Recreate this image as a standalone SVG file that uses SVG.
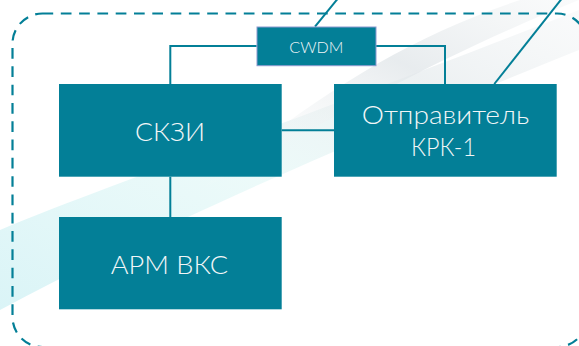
<svg xmlns="http://www.w3.org/2000/svg" width="579" height="346" viewBox="0 0 579 346">
  <defs>
    <linearGradient id="swoosh" x1="0" y1="1" x2="1" y2="0">
      <stop offset="0" stop-color="#d6f3f6" stop-opacity="0.9"/>
      <stop offset="0.45" stop-color="#e8f9f8" stop-opacity="0.8"/>
      <stop offset="0.75" stop-color="#e8edef" stop-opacity="0.8"/>
      <stop offset="1" stop-color="#f4f6f7" stop-opacity="0.5"/>
    </linearGradient>
    <linearGradient id="swoosh2" x1="0" y1="1" x2="1" y2="0">
      <stop offset="0" stop-color="#ffffff" stop-opacity="0"/>
      <stop offset="0.6" stop-color="#e2e7ea" stop-opacity="0.8"/>
      <stop offset="1" stop-color="#eef1f2" stop-opacity="0.3"/>
    </linearGradient>
    <style>
      .box { fill: #037f97; }
      .lbl { fill: #f2f6f7; font-family: "Lato", "Liberation Sans", "DejaVu Sans", sans-serif; font-weight: 300; text-anchor: middle; }
      .con { stroke: #037f97; stroke-width: 2; fill: none; }
      .frame { stroke: #037f97; stroke-width: 2.2; fill: none; stroke-dasharray: 10.7 7.6; }
    </style>
  </defs>
  <rect width="579" height="346" fill="#ffffff"/>
  <g id="background">
    <path d="M0 230 C120 180 300 120 579 10 L579 50 C330 150 150 230 0 310 Z" fill="url(#swoosh)"/>
    <path d="M200 190 C330 120 430 60 579 0 L520 0 C400 40 310 100 200 190 Z" fill="url(#swoosh2)"/>
  </g>
  <rect class="frame" x="12.5" y="13.5" width="574.5" height="333.5" rx="30" ry="30"/>
  <g id="connectors">
    <polyline class="con" points="256.7,46 170.3,46 170.3,84"/>
    <polyline class="con" points="376,46 445,46 445,84"/>
    <line class="con" x1="281.7" y1="130.3" x2="334" y2="130.3"/>
    <line class="con" x1="170.3" y1="176.7" x2="170.3" y2="217"/>
    <line class="con" x1="315" y1="26.7" x2="337.5" y2="-1"/>
    <line class="con" x1="494.3" y1="84" x2="561.5" y2="-1"/>
  </g>
  <g id="cwdm">
    <rect class="box" x="257" y="27" width="119" height="38.7" stroke="#8c9ad0" stroke-width="1"/>
    <text class="lbl" x="316.3" y="53" font-size="15.5" textLength="54" lengthAdjust="spacingAndGlyphs">CWDM</text>
  </g>
  <g id="skzi">
    <rect class="box" x="59" y="84" width="222.7" height="92.7"/>
    <text class="lbl" x="170" y="141" font-size="25" textLength="70" lengthAdjust="spacingAndGlyphs">СКЗИ</text>
  </g>
  <g id="otpravitel">
    <rect class="box" x="334" y="84" width="222.7" height="92.7"/>
    <text class="lbl" x="445.5" y="124.3" font-size="25" textLength="167.6" lengthAdjust="spacingAndGlyphs">Отправитель</text>
    <text class="lbl" x="443.5" y="156" font-size="25" textLength="65" lengthAdjust="spacingAndGlyphs">КРК-1</text>
  </g>
  <g id="arm">
    <rect class="box" x="59" y="217" width="222.7" height="92.3"/>
    <text class="lbl" x="169.5" y="273.7" font-size="25" textLength="117.4" lengthAdjust="spacingAndGlyphs">АРМ ВКС</text>
  </g>
</svg>
